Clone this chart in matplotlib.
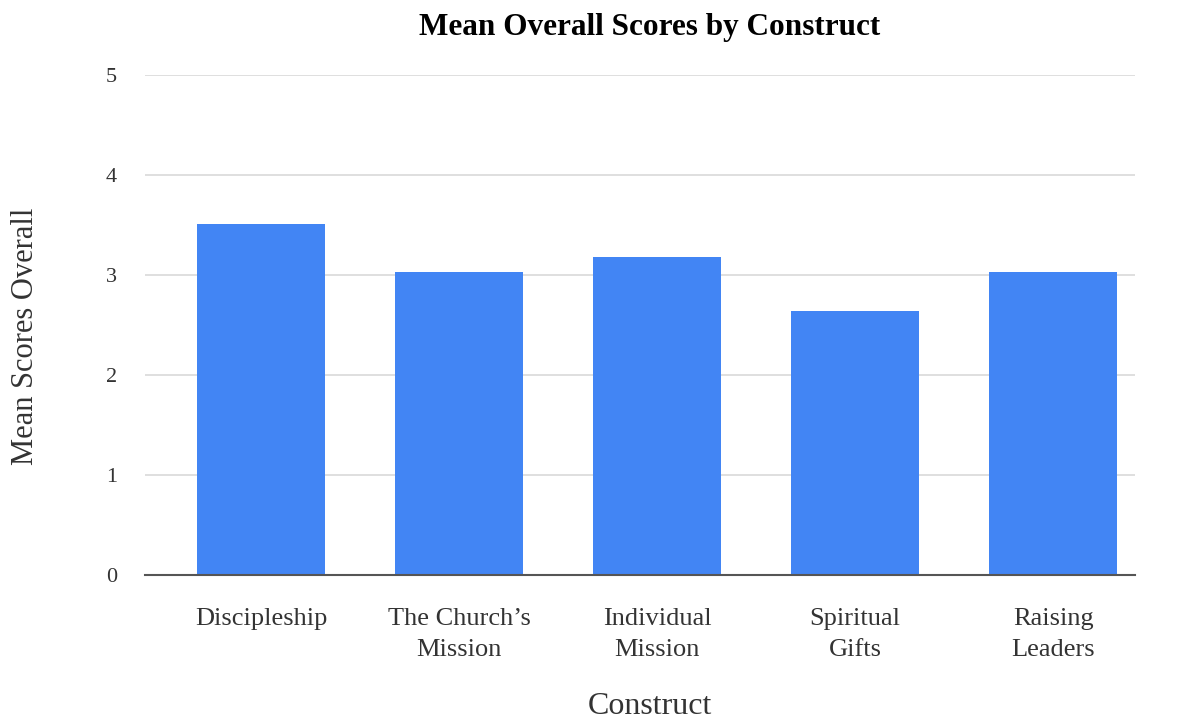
import matplotlib.pyplot as plt

# data
constructs = ["Discipleship", "The Church\u2019s\nMission", "Individual\nMission",
              "Spiritual\nGifts", "Raising\nLeaders"]
mean_scores = [3.51, 3.03, 3.18, 2.64, 3.03]
y_ticks = [0, 1, 2, 3, 4, 5]

plt.rcParams['font.family'] = ['Liberation Serif', 'DejaVu Serif']

fig = plt.figure(figsize=(11.8, 7.25), dpi=100)
ax = fig.add_axes([0.1229, 0.2069, 0.839, 0.6897])

x = range(len(constructs))
ax.bar(x, mean_scores, width=0.65, color="#4285F4", zorder=3)

ax.set_xlim(-0.586, 4.414)
ax.set_ylim(0, 5)
ax.set_yticks(y_ticks)
ax.set_xticks(list(x))
ax.set_xticklabels(constructs, linespacing=1.5)
ax.tick_params(axis="both", length=0, colors="#333333")
ax.tick_params(axis="y", pad=20, labelsize=16)
ax.tick_params(axis="x", pad=24, labelsize=19)

ax.grid(axis="y", color="#d9d9d9", linewidth=1.2, zorder=0)
for s in ["top", "right", "left"]:
    ax.spines[s].set_visible(False)
ax.spines["bottom"].set_color("#555555")
ax.spines["bottom"].set_linewidth(1.5)
ax.spines["bottom"].set_zorder(4)

fig.text(650 / 1180, 1 - 28 / 725, "Mean Overall Scores by Construct",
         fontsize=22.5, fontweight="bold", ha="center", va="center")
fig.text(26 / 1180, 1 - 336 / 725, "Mean Scores Overall", fontsize=22,
         color="#333333", rotation=90, ha="center", va="center")
fig.text(650 / 1180, 1 - 707 / 725, "Construct", fontsize=23,
         color="#333333", ha="center", va="center")

plt.savefig("out.png", dpi=100)
